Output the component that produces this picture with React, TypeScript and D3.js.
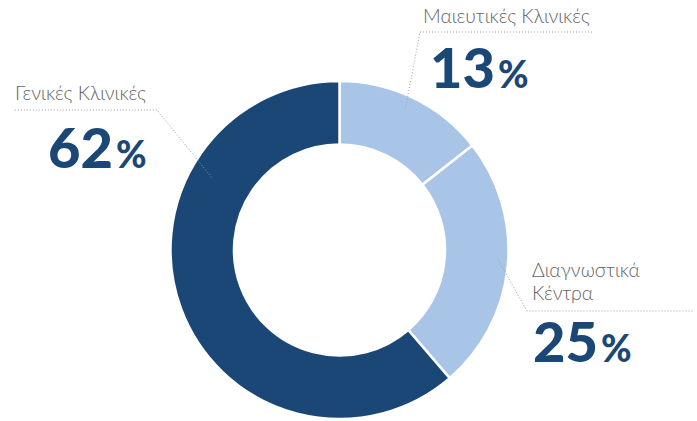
import React from "react";
import * as d3 from "d3";

const categories = ["Μαιευτικές Κλινικές", "Διαγνωστικά Κέντρα", "Γενικές Κλινικές"];
const labelLines = [["Μαιευτικές Κλινικές"], ["Διαγνωστικά", "Κέντρα"], ["Γενικές Κλινικές"]];
const percentLabels = [13, 25, 62];
// slice sizes as drawn in the picture
const sliceValues = [14.4, 24.3, 61.3];
const colors = ["#a8c4e7", "#a8c4e7", "#1a4775"];

const W = 697;
const H = 421;
const cx = 339.5;
const cy = 250;
const outerR = 169;
const innerR = 105.5;

// annotation layout: label position, leader anchor (angle in degrees, radius), elbow and line end
const annot = [
  { tx: 423, ty: 23, nx: 430, ny: 88, anchorDeg: 25, anchorR: 156, elbow: [420, 32], end: [593, 32] },
  { tx: 532, ty: 277, nx: 533, ny: 362, anchorDeg: 93, anchorR: 158, elbow: [527, 311], end: [693, 311] },
  { tx: 15, ty: 100, nx: 48, ny: 168, anchorDeg: 299.6, anchorR: 147, elbow: [157, 110], end: [13, 110] },
];

export default function App() {
  const pie = d3
    .pie<number>()
    .sort(null)
    .value((d) => d)
    .startAngle(0)
    .endAngle(Math.PI * 2);
  const arcs = pie(sliceValues);
  const arc = d3.arc<d3.PieArcDatum<number>>().innerRadius(innerR).outerRadius(outerR);

  const polar = (deg: number, r: number) => {
    const a = (deg * Math.PI) / 180;
    return [cx + r * Math.sin(a), cy - r * Math.cos(a)];
  };

  return (
    <svg
      width={W}
      height={H}
      style={{ position: "absolute", left: 0, top: 0, background: "#fff" }}
      fontFamily="Lato, 'Open Sans', sans-serif"
    >
      <g transform={`translate(${cx},${cy})`}>
        {arcs.map((a, i) => (
          <path key={categories[i]} d={arc(a) || ""} fill={colors[i]} stroke="#fff" strokeWidth={2.5} />
        ))}
      </g>
      {annot.map((an, i) => {
        const [ax, ay] = polar(an.anchorDeg, an.anchorR);
        return (
          <g key={categories[i]}>
            <polyline
              points={`${ax},${ay} ${an.elbow[0]},${an.elbow[1]} ${an.end[0]},${an.end[1]}`}
              fill="none"
              stroke="#a0a0a0"
              strokeWidth={1}
              strokeDasharray="1,2"
            />
            {labelLines[i].map((ln, j) => (
              <text key={j} x={an.tx} y={an.ty + j * 23} fontSize={19.5} fontWeight={300} fill="#646464">
                {ln}
              </text>
            ))}
            <text x={an.nx} y={an.ny} fill="#1a4775" fontWeight={900}>
              <tspan fontSize={56}>{percentLabels[i]}</tspan>
              <tspan fontSize={37} dx={3}>%</tspan>
            </text>
          </g>
        );
      })}
    </svg>
  );
}
